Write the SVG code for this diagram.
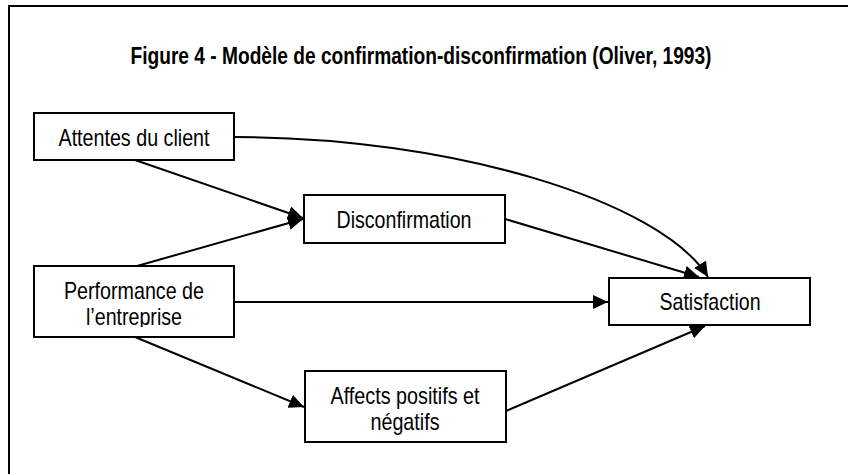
<svg xmlns="http://www.w3.org/2000/svg" width="848" height="474" viewBox="0 0 848 474">
  <style>
    .box { fill: #ffffff; stroke: #000000; stroke-width: 2; }
    .lbl { font-family: "Liberation Sans Narrow", "Arial Narrow", "Liberation Sans", Arial, sans-serif; font-size: 24px; fill: #000000; text-anchor: middle; }
    .title { font-family: "Liberation Sans Narrow", "Arial Narrow", "Liberation Sans", Arial, sans-serif; font-size: 23px; font-weight: bold; fill: #000000; text-anchor: middle; }
    .edge { fill: none; stroke: #000000; stroke-width: 2; marker-end: url(#arr); }
  </style>
  <defs>
    <marker id="arr" markerUnits="userSpaceOnUse" markerWidth="16" markerHeight="14" refX="15" refY="7" orient="auto">
      <path d="M0,0 L15,7 L0,14 Z" fill="#000000"/>
    </marker>
    <clipPath id="clipPerf">
      <rect x="34" y="266" width="200" height="61"/>
    </clipPath>
  </defs>
  <rect x="0" y="0" width="848" height="474" fill="#ffffff"/>
  <path d="M9,474 L9,6 L848,6" fill="none" stroke="#000000" stroke-width="2"/>
  <text class="title" x="421" y="64" textLength="581" lengthAdjust="spacingAndGlyphs">Figure 4 - Modèle de confirmation-disconfirmation (Oliver, 1993)</text>

  <g id="connectors">
    <path class="edge" d="M135,160 L303,218"/>
    <path class="edge" d="M137,266 L303,219"/>
    <path class="edge" d="M234,137 C450,137 660,200 708,277"/>
    <path class="edge" d="M505,219 L699,277"/>
    <path class="edge" d="M234,302 L608,302"/>
    <path class="edge" d="M135,337 L304,407"/>
    <path class="edge" d="M506,411 L705,326"/>
  </g>

  <g id="attentes">
    <rect class="box" x="34" y="113" width="200" height="47"/>
    <text class="lbl" x="134" y="146" textLength="151" lengthAdjust="spacingAndGlyphs">Attentes du client</text>
  </g>
  <g id="disconfirmation">
    <rect class="box" x="304" y="195" width="201" height="48"/>
    <text class="lbl" x="404" y="228" textLength="135" lengthAdjust="spacingAndGlyphs">Disconfirmation</text>
  </g>
  <g id="performance">
    <rect class="box" x="34" y="266" width="200" height="71"/>
    <g clip-path="url(#clipPerf)">
      <text class="lbl" x="134" y="299" textLength="140" lengthAdjust="spacingAndGlyphs">Performance de</text>
      <text class="lbl" x="134" y="325" textLength="96" lengthAdjust="spacingAndGlyphs">l’entreprise</text>
    </g>
  </g>
  <g id="satisfaction">
    <rect class="box" x="609" y="278" width="201" height="47"/>
    <text class="lbl" x="710" y="310" textLength="101" lengthAdjust="spacingAndGlyphs">Satisfaction</text>
  </g>
  <g id="affects">
    <rect class="box" x="305" y="371" width="201" height="71"/>
    <text class="lbl" x="405" y="404" textLength="149" lengthAdjust="spacingAndGlyphs">Affects positifs et</text>
    <text class="lbl" x="405" y="430" textLength="69" lengthAdjust="spacingAndGlyphs">négatifs</text>
  </g>
</svg>
